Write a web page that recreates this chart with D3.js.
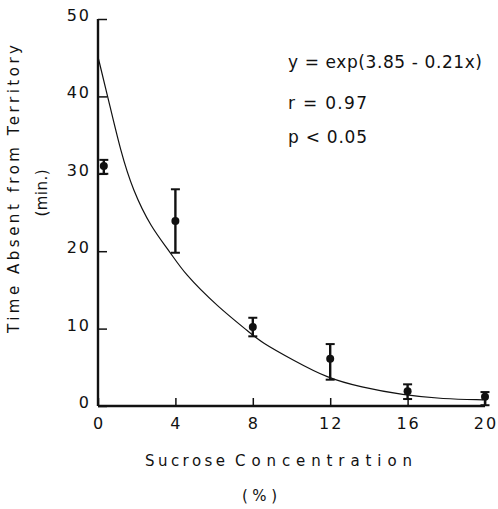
<!DOCTYPE html>
<html>
<head>
<meta charset="utf-8">
<script src="https://cdn.jsdelivr.net/npm/d3@7"></script>
<style>
  html, body { margin: 0; padding: 0; background: #fff; }
  svg { display: block; }
  text { font-family: "DejaVu Sans", "Liberation Sans", sans-serif; fill: #111; }
</style>
</head>
<body>
<script>
// ---- data ----
const concentration = [0.3, 4, 8, 12, 16, 20];
const meanTime = [31.0, 23.9, 10.2, 6.1, 1.9, 1.2];
const errHigh = [31.8, 28.0, 11.4, 8.0, 2.8, 1.8];
const errLow = [30.0, 19.8, 9.0, 3.4, 0.9, 0.1];

const curveX = [0, 0.52, 1.19, 1.8, 2.73, 3.76, 4.43, 6.19, 7.89, 8.4, 10.1, 11.86, 13.56, 15.77, 17.84, 19.9];
const curveY = [45.1, 39.8, 32.7, 27.9, 23.1, 19.8, 17.2, 12.8, 9.4, 8.3, 5.9, 3.6, 2.45, 1.4, 0.9, 0.8];

const xTicks = [0, 4, 8, 12, 16, 20];
const yTicks = [0, 10, 20, 30, 40, 50];
const annotations = ["y = exp(3.85 - 0.21x)", "r = 0.97", "p < 0.05"];

// ---- chart ----
const W = 498, H = 509;
const svg = d3.select("body").append("svg").attr("width", W).attr("height", H);

const x = d3.scaleLinear().domain([0, 20]).range([98, 485]);
const y = d3.scaleLinear().domain([0, 50]).range([406, 19]);

// axes (ticks inward)
const xAxis = d3.axisBottom(x).tickValues(xTicks).tickSize(-8).tickFormat("");
const yAxis = d3.axisLeft(y).tickValues(yTicks).tickSize(-9).tickFormat("");

const gx = svg.append("g").attr("transform", `translate(0,${y(0)})`).call(xAxis);
const gy = svg.append("g").attr("transform", `translate(${x(0)},0)`).call(yAxis);
[gx, gy].forEach(g => {
  g.select(".domain").attr("stroke", "#111").attr("stroke-width", 2.4);
  g.selectAll(".tick line").attr("stroke", "#111").attr("stroke-width", 1.5);
});
gx.select(".domain").attr("d", `M${x(0)},0H${x(20)}`);
gy.select(".domain").attr("d", `M0,${y(0)}V${y(50)}`);

// tick labels
svg.append("g").selectAll("text").data(xTicks).join("text")
  .attr("x", d => x(d) + 1).attr("y", 429)
  .attr("text-anchor", "middle")
  .attr("font-size", 16).attr("letter-spacing", 2)
  .text(d => d);

svg.append("g").selectAll("text").data(yTicks).join("text")
  .attr("x", 91).attr("y", d => y(d) + 2)
  .attr("text-anchor", "end")
  .attr("font-size", 16).attr("letter-spacing", 2)
  .text(d => d);

// fitted curve
const line = d3.line().x((d, i) => x(curveX[i])).y(d => y(d)).curve(d3.curveBasis);
svg.append("path").datum(curveY)
  .attr("d", line).attr("fill", "none").attr("stroke", "#111").attr("stroke-width", 1.2);

// error bars
const eb = svg.append("g");
concentration.forEach((c, i) => {
  const cx = x(c);
  eb.append("line").attr("x1", cx).attr("x2", cx)
    .attr("y1", y(errLow[i])).attr("y2", y(errHigh[i]))
    .attr("stroke", "#111").attr("stroke-width", 2.4);
  [errLow[i], errHigh[i]].forEach(v => {
    eb.append("line").attr("x1", cx - 4.5).attr("x2", cx + 4.5)
      .attr("y1", y(v)).attr("y2", y(v))
      .attr("stroke", "#111").attr("stroke-width", 2);
  });
});

// points
svg.append("g").selectAll("circle").data(meanTime).join("circle")
  .attr("cx", (d, i) => x(concentration[i])).attr("cy", d => y(d))
  .attr("r", 4).attr("fill", "#111");

// annotations
const annY = [68, 109, 143];
svg.append("g").selectAll("text").data(annotations).join("text")
  .attr("x", 288).attr("y", (d, i) => annY[i])
  .attr("font-size", 17)
  .attr("textLength", (d, i) => i === 0 ? 194 : 79)
  .attr("lengthAdjust", "spacing")
  .text(d => d);

// axis titles
svg.append("text")
  .attr("transform", "translate(19,189) rotate(-90)")
  .attr("text-anchor", "middle").attr("font-size", 15)
  .attr("textLength", 288).attr("lengthAdjust", "spacing")
  .text("Time Absent from Territory");
svg.append("text")
  .attr("transform", "translate(47,193) rotate(-90)")
  .attr("text-anchor", "middle").attr("font-size", 15)
  .attr("textLength", 47).attr("lengthAdjust", "spacing")
  .text("(min.)");

svg.append("text")
  .attr("x", 145).attr("y", 466).attr("font-size", 15)
  .attr("textLength", 80).attr("lengthAdjust", "spacing")
  .text("Sucrose");
svg.append("text")
  .attr("x", 235).attr("y", 466).attr("font-size", 15)
  .attr("textLength", 177).attr("lengthAdjust", "spacing")
  .text("Concentration");
svg.append("text")
  .attr("x", 242).attr("y", 501).attr("font-size", 15)
  .attr("textLength", 35).attr("lengthAdjust", "spacing")
  .text("(%)");
</script>
</body>
</html>
